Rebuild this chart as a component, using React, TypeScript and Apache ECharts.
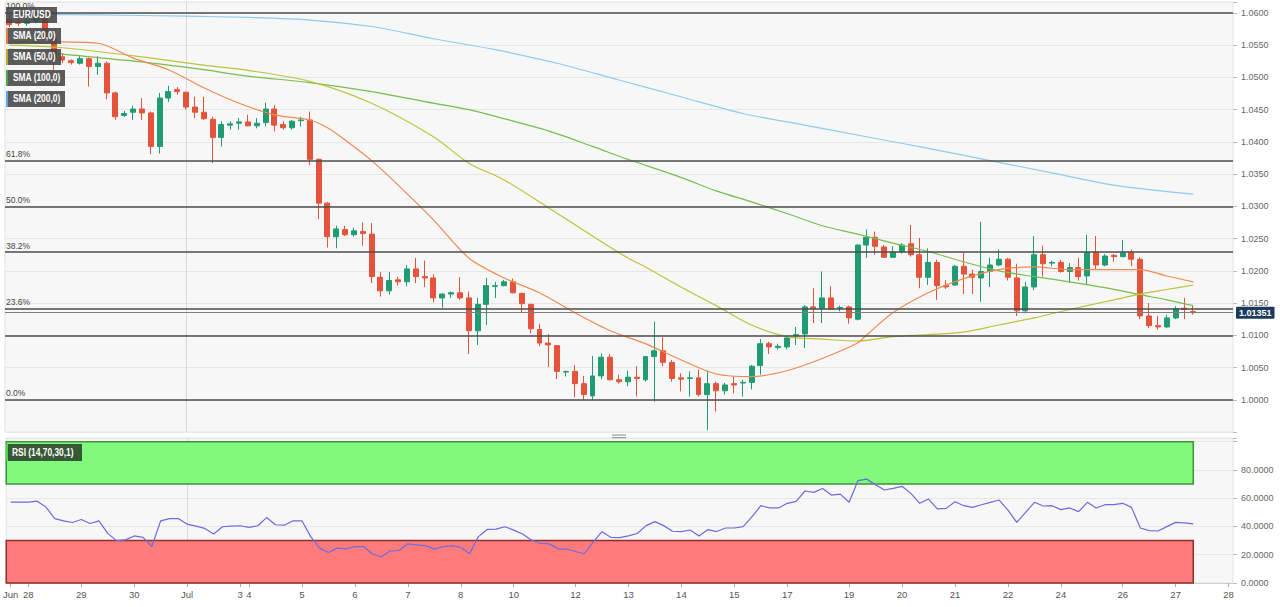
import React, { useEffect, useRef } from 'react';
import * as echarts from 'echarts';

// ---- Data (4H candles, EUR/USD) ----
const opens = [1.0590,1.0586,1.0584,1.0588,1.0594,1.0563,1.0532,1.0526,1.0522,1.0529,1.0517,1.0522,1.0476,1.0441,1.0446,1.0451,1.0445,1.0393,1.0468,1.0481,1.0477,1.0454,1.0446,1.0435,1.0407,1.0426,1.0429,1.0431,1.0425,1.0430,1.0451,1.0427,1.0422,1.0433,1.0434,1.0373,1.0305,1.0253,1.0264,1.0256,1.0261,1.0257,1.0190,1.0169,1.0186,1.0183,1.0203,1.0191,1.0189,1.0158,1.0164,1.0166,1.0158,1.0107,1.0148,1.0176,1.0177,1.0183,1.0165,1.0148,1.0109,1.0088,1.0084,1.0043,1.0044,1.0025,1.0006,1.0037,1.0066,1.0031,1.0028,1.0035,1.0031,1.0067,1.0076,1.0058,1.0034,1.0033,1.0034,1.0008,1.0025,1.0014,1.0025,1.0026,1.0027,1.0053,1.0087,1.0081,1.0082,1.0099,1.0102,1.0144,1.0142,1.0158,1.0142,1.0144,1.0125,1.0240,1.0252,1.0237,1.0221,1.0230,1.0242,1.0225,1.0190,1.0213,1.0177,1.0178,1.0207,1.0195,1.0189,1.0199,1.0209,1.0218,1.0189,1.0138,1.0175,1.0225,1.0212,1.0213,1.0199,1.0205,1.0192,1.0228,1.0209,1.0224,1.0222,1.0228,1.0218,1.0130,1.0115,1.0113,1.0127,1.0142,1.0137];
const closes = [1.0582,1.0584,1.0588,1.0594,1.0563,1.0530,1.0527,1.0523,1.0529,1.0517,1.0522,1.0476,1.0439,1.0444,1.0451,1.0445,1.0393,1.0468,1.0478,1.0478,1.0454,1.0446,1.0436,1.0407,1.0427,1.0428,1.0431,1.0425,1.0429,1.0451,1.0426,1.0422,1.0432,1.0434,1.0373,1.0305,1.0253,1.0265,1.0256,1.0262,1.0258,1.0191,1.0169,1.0185,1.0183,1.0203,1.0191,1.0189,1.0158,1.0164,1.0166,1.0158,1.0107,1.0148,1.0177,1.0177,1.0183,1.0166,1.0149,1.0110,1.0088,1.0085,1.0044,1.0044,1.0025,1.0008,1.0037,1.0066,1.0031,1.0028,1.0035,1.0033,1.0067,1.0076,1.0058,1.0033,1.0032,1.0034,1.0008,1.0025,1.0014,1.0023,1.0023,1.0027,1.0052,1.0087,1.0082,1.0083,1.0096,1.0101,1.0144,1.0142,1.0158,1.0141,1.0143,1.0127,1.0240,1.0252,1.0238,1.0221,1.0229,1.0240,1.0225,1.0190,1.0213,1.0177,1.0175,1.0207,1.0195,1.0190,1.0199,1.0209,1.0218,1.0190,1.0138,1.0175,1.0225,1.0211,1.0213,1.0199,1.0205,1.0191,1.0228,1.0209,1.0223,1.0222,1.0228,1.0218,1.0130,1.0115,1.0113,1.0127,1.0141,1.0140,1.01351];
const lows = [1.0578,1.0580,1.0580,1.0584,1.0558,1.0512,1.0522,1.0520,1.0520,1.0486,1.0504,1.0466,1.0434,1.0439,1.0434,1.0434,1.0381,1.0382,1.0462,1.0473,1.0450,1.0437,1.0434,1.0367,1.0393,1.0419,1.0419,1.0424,1.0421,1.0424,1.0416,1.0419,1.0419,1.0424,1.0364,1.0280,1.0236,1.0235,1.0254,1.0253,1.0239,1.0181,1.0160,1.0163,1.0177,1.0176,1.0181,1.0175,1.0151,1.0143,1.0158,1.0155,1.0071,1.0085,1.0116,1.0158,1.0176,1.0165,1.0135,1.0103,1.0083,1.0051,1.0032,1.0036,1.0004,1.0000,1.0000,1.0032,1.0030,1.0025,1.0021,1.0005,1.0028,0.9997,1.0052,1.0028,1.0013,1.0005,1.0005,0.9953,0.9982,1.0008,1.0010,1.0005,1.0016,1.0039,1.0071,1.0078,1.0078,1.0085,1.0080,1.0119,1.0119,1.0140,1.0137,1.0118,1.0123,1.0220,1.0225,1.0220,1.0220,1.0227,1.0222,1.0173,1.0178,1.0155,1.0172,1.0177,1.0164,1.0164,1.0152,1.0175,1.0207,1.0185,1.0130,1.0134,1.0170,1.0191,1.0207,1.0197,1.0181,1.0185,1.0178,1.0202,1.0207,1.0214,1.0221,1.0207,1.0125,1.0111,1.0109,1.0111,1.0125,1.0125,1.0132];
const highs = [1.0598,1.0590,1.0592,1.0600,1.0598,1.0566,1.0538,1.0528,1.0533,1.0531,1.0533,1.0525,1.0478,1.0448,1.0456,1.0468,1.0447,1.0476,1.0487,1.0485,1.0478,1.0470,1.0470,1.0439,1.0432,1.0432,1.0437,1.0442,1.0437,1.0461,1.0457,1.0432,1.0434,1.0439,1.0447,1.0374,1.0307,1.0270,1.0270,1.0267,1.0275,1.0274,1.0198,1.0198,1.0191,1.0209,1.0220,1.0216,1.0195,1.0165,1.0168,1.0190,1.0168,1.0158,1.0189,1.0183,1.0186,1.0188,1.0166,1.0149,1.0118,1.0102,1.0085,1.0045,1.0054,1.0037,1.0068,1.0072,1.0071,1.0039,1.0045,1.0052,1.0068,1.0121,1.0097,1.0062,1.0041,1.0044,1.0047,1.0045,1.0028,1.0026,1.0037,1.0031,1.0054,1.0094,1.0090,1.0087,1.0099,1.0113,1.0147,1.0173,1.0199,1.0176,1.0146,1.0146,1.0241,1.0264,1.0261,1.0240,1.0238,1.0243,1.0271,1.0251,1.0235,1.0217,1.0186,1.0209,1.0228,1.0202,1.0276,1.0220,1.0233,1.0220,1.0211,1.0183,1.0254,1.0239,1.0216,1.0217,1.0212,1.0220,1.0256,1.0254,1.0226,1.0226,1.0248,1.0233,1.0221,1.0150,1.0130,1.0132,1.0145,1.0158,1.0147];

const rsi = [57.2,57.2,57.2,57.9,53.7,45.6,44.0,42.8,44.9,42.1,44.0,35.1,30.0,30.5,33.3,32.3,25.8,44.0,45.6,45.6,41.6,40.2,38.6,34.7,39.8,40.2,40.5,39.3,40.5,46.3,41.2,40.9,44.0,44.0,32.8,24.7,21.6,24.7,24.2,25.8,25.8,20.5,18.4,22.8,23.0,27.7,27.0,26.5,24.0,25.8,26.3,25.3,20.7,32.8,37.9,38.1,39.8,37.4,34.7,30.5,28.1,27.7,24.2,24.0,22.3,20.7,29.0,36.3,32.3,32.1,33.3,35.0,40.6,43.4,40.6,36.6,36.4,37.5,33.3,37.8,36.4,38.9,38.9,39.9,46.9,54.7,53.1,53.1,56.4,57.8,65.1,64.1,66.9,62.2,62.9,57.1,72.4,73.5,69.5,65.8,66.9,68.4,63.4,56.4,59.4,52.4,52.8,57.5,54.7,53.5,55.4,57.1,58.7,51.6,42.9,50.0,57.1,54.5,54.7,51.9,53.1,50.5,57.1,53.1,55.4,55.4,56.4,53.5,38.9,37.1,36.8,39.9,42.9,42.5,41.8];

const sma20 = [[0,1.0555],[5,1.0555],[10,1.0553],[14,1.0530],[18,1.0512],[22,1.0484],[26,1.0460],[30,1.0442],[34,1.0434],[36,1.0422],[38,1.0403],[41,1.0371],[44,1.0333],[48,1.0279],[52,1.0220],[56,1.0189],[60,1.0166],[64,1.0135],[68,1.0107],[72,1.0087],[76,1.0062],[80,1.0040],[84,1.0036],[88,1.0045],[92,1.0064],[96,1.0088],[97,1.0100],[100,1.0135],[104,1.0166],[108,1.0188],[112,1.0202],[116,1.0206],[120,1.0202],[124,1.0202],[128,1.0202],[131,1.0192],[134,1.0183]];
const sma50 = [[0,1.0550],[6,1.0546],[15,1.0532],[22,1.0519],[27,1.0511],[34,1.0494],[41,1.0460],[48,1.0408],[52,1.0367],[56,1.0341],[61,1.0298],[66,1.0254],[70,1.0220],[72,1.0206],[76,1.0175],[80,1.0146],[84,1.0116],[88,1.0098],[92,1.0094],[96,1.0091],[100,1.0098],[104,1.0101],[108,1.0105],[112,1.0116],[116,1.0127],[120,1.0140],[124,1.0152],[128,1.0164],[131,1.0171],[134,1.0178]];
const sma100 = [[0,1.0544],[6,1.0536],[15,1.0524],[22,1.0512],[27,1.0502],[34,1.0492],[41,1.0478],[48,1.0460],[52,1.0450],[56,1.0436],[61,1.0417],[66,1.0393],[70,1.0373],[76,1.0345],[80,1.0324],[84,1.0307],[88,1.0289],[92,1.0270],[96,1.0257],[100,1.0243],[104,1.0230],[108,1.0214],[112,1.0200],[116,1.0191],[120,1.0183],[124,1.0174],[128,1.0163],[131,1.0155],[134,1.0146]];
const sma200 = [[0,1.0598],[10,1.0597],[20,1.0595],[27,1.0593],[34,1.0589],[41,1.0579],[48,1.0560],[55,1.0543],[62,1.0522],[69,1.0496],[76,1.0470],[83,1.0444],[90,1.0426],[97,1.0408],[104,1.0390],[111,1.0371],[118,1.0352],[125,1.0333],[134,1.0319]];

const tickIndex = [0,2,8,14,20,26,27,33,39,45,51,57,64,70,76,82,88,95,101,107,113,119,126,132,138];
const tickText = ['Jun','28','29','30','Jul','3','4','5','6','7','8','10','12','13','14','15','17','19','20','21','22','24','26','27','28'];
const monthStartIndex = 20;
const categoryCount = 139;

const fibLevels = [1.0, 1.01416, 1.02292, 1.03, 1.03708, 1.06];
const fibNames = ['0.0%', '23.6%', '38.2%', '50.0%', '61.8%', '100.0%'];
const supportLevel = 1.01;
const lastPrice = 1.01351;
const rsiUpper = [70, 100];
const rsiLower = [0, 30];

const legendNames = ['EUR/USD', 'SMA (20,0)', 'SMA (50,0)', 'SMA (100,0)', 'SMA (200,0)'];

const UP = '#1f9c73';
const DOWN = '#e5543a';
const SANS = 'Arial, "Liberation Sans", sans-serif';

export default function App() {
  const ref = useRef<HTMLDivElement>(null);
  useEffect(() => {
    if (!ref.current) return;
    const chart = echarts.init(ref.current, undefined, { renderer: 'svg' });
    const cats = Array.from({ length: categoryCount }, (_, i) => String(i));
    const labelMap: Record<number, string> = {};
    tickIndex.forEach((idx, k) => { labelMap[idx] = tickText[k]; });
    const candleData = opens.map((o, i) => [o, closes[i], lows[i], highs[i]]);

    const fibLines = fibLevels.map((v, k) => ({
      yAxis: v,
      lineStyle: { color: '#4d4d4d', width: 1.5, type: 'solid' },
      label: {
        show: true, position: 'insideStartTop', formatter: fibNames[k],
        color: '#444', fontSize: 8.5, distance: [1, 2], fontFamily: SANS,
      },
    }));

    const legendColors = [null, '#f07b3f', '#c0a52c', '#46a846', '#5aa9e6'];
    const legendWidths = [51, 55, 55, 59, 59];
    const legendGraphics: any[] = [];
    legendNames.forEach((name, k) => {
      const top = 7 + k * 21;
      legendGraphics.push({
        type: 'rect', left: 6, top, shape: { width: legendWidths[k], height: 16 },
        style: { fill: 'rgba(70,70,70,0.88)' }, z: 100,
      });
      if (legendColors[k]) {
        legendGraphics.push({
          type: 'rect', left: 6, top, shape: { width: 2, height: 16 },
          style: { fill: legendColors[k] }, z: 101,
        });
      }
      legendGraphics.push({
        type: 'text', x: 13, y: top + 8, scaleX: 0.84, z: 102,
        style: { text: name, fill: '#ffffff', font: `bold 10px ${SANS}`, textVerticalAlign: 'middle', textAlign: 'left' },
      });
    });
    // RSI label
    legendGraphics.push({ type: 'rect', left: 6, top: 444, shape: { width: 76, height: 17 }, style: { fill: 'rgba(45,70,45,0.9)' }, z: 100 });
    legendGraphics.push({ type: 'rect', left: 6, top: 444, shape: { width: 2, height: 17 }, style: { fill: '#3fdc3f' }, z: 101 });
    legendGraphics.push({ type: 'text', x: 12, y: 452.5, scaleX: 0.84, z: 102, style: { text: 'RSI (14,70,30,1)', fill: '#ffffff', font: `bold 10px ${SANS}`, textVerticalAlign: 'middle', textAlign: 'left' } });
    // panel divider handle
    legendGraphics.push({ type: 'rect', left: 612, top: 434.5, shape: { width: 14, height: 1.2 }, style: { fill: '#9a9a9a' }, z: 100 });
    legendGraphics.push({ type: 'rect', left: 612, top: 437, shape: { width: 14, height: 1.2 }, style: { fill: '#9a9a9a' }, z: 100 });

    const smaLine = (data: number[][], color: string, name: string) => ({
      type: 'line', name, xAxisIndex: 0, yAxisIndex: 0, data, symbol: 'none', showSymbol: false,
      smooth: 0.3, lineStyle: { color, width: 1.2 }, z: 4, silent: true,
    });

    const option: any = {
      animation: false,
      backgroundColor: '#ffffff',
      textStyle: { fontFamily: SANS },
      grid: [
        { left: 5, right: 47, top: 2, height: 430, show: true, backgroundColor: '#f7f7f7', borderColor: '#e2e2e2', borderWidth: 1 },
        { left: 5, right: 47, top: 438, height: 145, show: true, backgroundColor: '#f7f7f7', borderColor: '#e2e2e2', borderWidth: 1 },
      ],
      xAxis: [
        {
          type: 'category', gridIndex: 0, data: cats, boundaryGap: true,
          axisLine: { show: false }, axisTick: { show: false }, axisLabel: { show: false },
          splitLine: { show: true, interval: (i: number) => i === monthStartIndex, alignWithLabel: true, lineStyle: { color: '#dadada' } },
        },
        {
          type: 'category', gridIndex: 1, data: cats, boundaryGap: true,
          axisLine: { show: true, lineStyle: { color: '#d0d0d0' } },
          axisTick: { show: true, alignWithLabel: true, interval: (i: number) => labelMap[i] !== undefined, length: 4, lineStyle: { color: '#aaaaaa' } },
          axisLabel: {
            show: true, interval: (i: number) => labelMap[i] !== undefined,
            formatter: (_v: string, i: number) => labelMap[i] ?? '', fontSize: 9.5, color: '#555', margin: 6,
          },
          splitLine: { show: true, interval: (i: number) => i === monthStartIndex, alignWithLabel: true, lineStyle: { color: '#dadada' } },
        },
      ],
      yAxis: [
        {
          type: 'value', gridIndex: 0, position: 'right', min: 0.995, max: 1.0617, interval: 0.005,
          axisLine: { show: false },
          axisTick: { show: true, length: 4, lineStyle: { color: '#bbbbbb' } },
          axisLabel: {
            formatter: (v: number) => (v < 0.9999 || v > 1.0601 ? '' : v.toFixed(4)),
            fontSize: 9, color: '#666', margin: 8,
          },
          splitLine: { show: true, lineStyle: { color: '#e7e7e7' } },
        },
        {
          type: 'value', gridIndex: 1, position: 'right', min: 0, max: 102.6, interval: 20,
          axisLine: { show: false },
          axisTick: { show: true, length: 4, lineStyle: { color: '#bbbbbb' } },
          axisLabel: {
            formatter: (v: number) => (v > 81 ? '' : v.toFixed(4)),
            fontSize: 9, color: '#666', margin: 8,
          },
          splitLine: { show: true, lineStyle: { color: '#e7e7e7' } },
        },
      ],
      graphic: legendGraphics,
      series: [
        {
          type: 'candlestick', name: 'EUR/USD', xAxisIndex: 0, yAxisIndex: 0, data: candleData,
          barWidth: '62%',
          itemStyle: { color: UP, color0: DOWN, borderColor: UP, borderColor0: DOWN, borderWidth: 1 },
          markLine: {
            silent: true, symbol: ['none', 'none'], animation: false, precision: 6,
            data: [
              ...fibLines,
              { yAxis: supportLevel, lineStyle: { color: '#4d4d4d', width: 1.5, type: 'solid' }, label: { show: false } },
              {
                yAxis: lastPrice, lineStyle: { color: '#7d7d7d', width: 1, type: 'solid' },
                label: {
                  show: true, position: 'end', formatter: lastPrice.toFixed(5), distance: 3,
                  backgroundColor: '#1c3b5c', color: '#ffffff', fontWeight: 'bold', fontSize: 9,
                  padding: [2, 3, 1, 3], borderRadius: 1,
                },
              },
            ],
          },
        },
        smaLine(sma200, '#8fcbf0', 'SMA (200,0)'),
        smaLine(sma100, '#76be4e', 'SMA (100,0)'),
        smaLine(sma50, '#b9c43c', 'SMA (50,0)'),
        smaLine(sma20, '#f08a50', 'SMA (20,0)'),
        {
          type: 'line', name: 'RSI', xAxisIndex: 1, yAxisIndex: 1, data: rsi, symbol: 'none', showSymbol: false,
          lineStyle: { color: '#6b6be0', width: 1.2 }, z: 5, silent: true,
          markArea: {
            silent: true,
            label: { show: false },
            data: [
              [
                { yAxis: rsiUpper[1], itemStyle: { color: '#80f97c', borderColor: '#3c933c', borderWidth: 1.5 } },
                { xAxis: rsi.length - 1, yAxis: rsiUpper[0] },
              ],
              [
                { yAxis: rsiLower[1], itemStyle: { color: '#ff7b7b', borderColor: '#8e2f2f', borderWidth: 1.5 } },
                { xAxis: rsi.length - 1, yAxis: rsiLower[0] },
              ],
            ],
          },
        },
      ],
    };
    chart.setOption(option);
    return () => { chart.dispose(); };
  }, []);
  return <div ref={ref} style={{ position: 'fixed', left: 0, top: 0, width: 1280, height: 607, background: '#fff' }} />;
}
